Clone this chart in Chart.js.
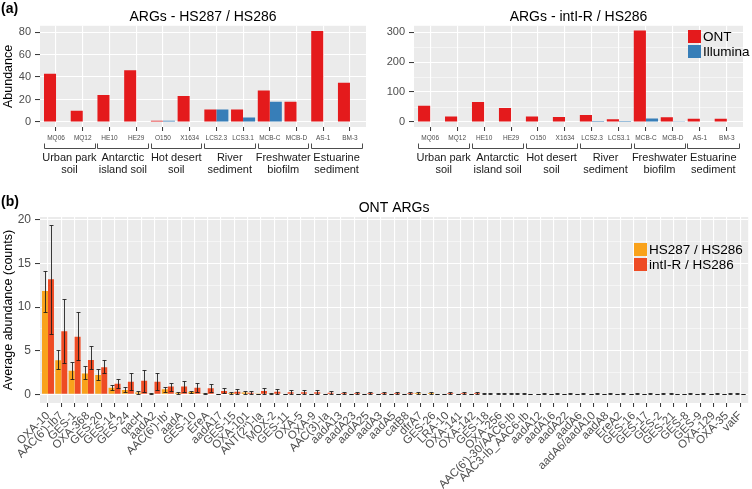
<!DOCTYPE html>
<html>
<head>
<meta charset="utf-8">
<script src="https://cdn.jsdelivr.net/npm/chart.js@4.4.0/dist/chart.umd.min.js"></script>
<style>
    body { margin: 0; width: 752px; height: 489px; background: #fff; position: relative; overflow: hidden; font-family: "Liberation Sans", Arial, sans-serif; }
    .box { position: absolute; }
    .tag { position: absolute; font-weight: bold; font-size: 14px; color: #000; }
</style>
</head>
<body>
<div class="box" style="left:0;top:0;width:376px;height:190px"><canvas id="chartHs287"></canvas></div>
<div class="box" style="left:376px;top:0;width:376px;height:190px"><canvas id="chartInti"></canvas></div>
<div class="box" style="left:0;top:195px;width:752px;height:294px"><canvas id="chartOnt"></canvas></div>
<div class="tag" style="left:1px;top:0px">(a)</div>
<div class="tag" style="left:1px;top:193px">(b)</div>
<script>
// Dados do painel (a)
const samples = ['MQ06', 'MQ12', 'HE10', 'HE29', 'O150', 'X1634', 'LCS2.3', 'LCS3.1', 'MCB-C', 'MCB-D', 'AS-1', 'BM-3'];
const sampleGroups = [['Urban park', 'soil'], ['Antarctic', 'island soil'], ['Hot desert', 'soil'], ['River', 'sediment'], ['Freshwater', 'biofilm'], ['Estuarine', 'sediment']];
const samplesPerGroup = 2;
const hs287Ont = [43, 10, 24, 46, 1, 23, 11, 11, 28, 18, 81, 35];
const hs287Illumina = [0, 0, 0, 0, 1, 0, 11, 4, 18, 0, 0, 0];
const intiOnt = [54, 18, 67, 47, 18, 17, 23, 9, 305, 16, 11, 11];
const intiIllumina = [0, 0, 0, 0, 0, 0, 3, 3, 12, 1, 0, 0];
const hs287Ticks = [0, 20, 40, 60, 80];
const intiTicks = [0, 100, 200, 300];

// Dados do painel (b)
const genes = ['OXA-10', "AAC(6')-Ib7", 'GES-1', 'OXA-368', 'GES-20', 'GES-14', 'GES-24', 'qacH', 'aadA2', "AAC(6')-Ib'",
    'aadA', 'GES-10', 'EreA', 'aadA17', 'GES-15', 'OXA-101', "ANT(2'')-Ia", 'MOX-2', 'GES-11', 'OXA-5',
    'OXA-9', 'AAC(3)-Ia', 'aadA13', 'aadA23', 'aadA25', 'aadA3', 'aadA5', 'catB8', 'dfrA7', 'GES-26',
    'LRA-10', 'OXA-141', 'OXA-142', 'GES-18', 'OXA-256', "AAC(6')-30/AAC6-Ib", 'AAC3-Ib_AAC6-Ib', 'aadA12', 'aadA16', 'aadA22',
    'aadA6', 'aadA6/aadA10', 'aadA8', 'EreA2', 'GES-16', 'GES-17', 'GES-2', 'GES-21', 'GES-8', 'GES-9',
    'OXA-129', 'OXA-35', 'vatF'];
const hs287Mean = [11.85, 3.9, 2.7, 2.4, 2.2, 0.76, 0.5, 0.2, 0.08, 0.57,
    0.19, 0.3, 0.08, 0.05, 0.15, 0.2, 0.04, 0.08, 0, 0,
    0, 0, 0, 0, 0, 0, 0, 0, 0.15, 0.15,
    0, 0, 0, 0.07, 0.07, 0.07, 0.07, 0, 0, 0,
    0, 0, 0, 0, 0, 0, 0, 0.07, 0, 0,
    0, 0, 0.07];
const hs287Low = [9.4, 2.9, 1.7, 1.7, 1.6, 0.5, 0.25, 0.05, 0.05, 0.25,
    0.05, 0.2, 0.05, 0.02, 0.02, 0.02, 0.02, 0.03, 0, 0,
    0, 0, 0, 0, 0, 0, 0, 0, 0, 0,
    0, 0, 0, 0, 0, 0, 0, 0, 0, 0,
    0, 0, 0, 0, 0, 0, 0, 0, 0, 0,
    0, 0, 0];
const hs287High = [14.2, 5.1, 3.7, 3.2, 2.9, 1.05, 0.85, 0.4, 0.1, 0.88,
    0.3, 0.42, 0.1, 0.08, 0.3, 0.42, 0.06, 0.12, 0, 0,
    0, 0, 0, 0, 0, 0, 0, 0, 0.3, 0.3,
    0, 0, 0, 0.13, 0.13, 0.13, 0.13, 0, 0, 0,
    0, 0, 0, 0, 0, 0, 0, 0.13, 0, 0,
    0, 0, 0.13];
const intiMean = [13.2, 7.25, 6.6, 3.95, 3.1, 1.22, 1.45, 1.55, 1.45, 0.88,
    0.88, 0.76, 0.7, 0.38, 0.3, 0.19, 0.38, 0.3, 0.23, 0.23,
    0.23, 0.19, 0.15, 0.15, 0.15, 0.15, 0.15, 0.15, 0, 0,
    0.15, 0.15, 0.15, 0.07, 0.07, 0.07, 0, 0.07, 0.07, 0.07,
    0.07, 0.07, 0.07, 0.07, 0.07, 0.07, 0.07, 0, 0.07, 0.07,
    0.07, 0.07, 0];
const intiLow = [6.9, 3.55, 3.9, 2.9, 2.4, 0.75, 0.5, 0.3, 0.45, 0.4,
    0.25, 0.25, 0.25, 0.1, 0.05, 0.02, 0.08, 0.03, 0.02, 0,
    0, 0.03, 0, 0, 0, 0, 0, 0, 0, 0,
    0, 0, 0, 0, 0, 0, 0, 0, 0, 0,
    0, 0, 0, 0, 0, 0, 0, 0, 0, 0,
    0, 0, 0];
const intiHigh = [19.4, 10.9, 9.4, 5.5, 3.9, 1.8, 2.5, 2.75, 2.45, 1.35,
    1.5, 1.32, 1.15, 0.68, 0.6, 0.38, 0.7, 0.58, 0.45, 0.48,
    0.46, 0.35, 0.3, 0.3, 0.3, 0.3, 0.3, 0.3, 0, 0,
    0.3, 0.3, 0.3, 0.13, 0.13, 0.13, 0, 0.13, 0.13, 0.13,
    0.13, 0.13, 0.13, 0.13, 0.13, 0.13, 0.13, 0, 0.13, 0.13,
    0.13, 0.13, 0];
const ontTicks = [0, 5, 10, 15, 20];

const FONT = '"Liberation Sans", Arial, sans-serif';

// Fundo cinza do painel (estilo ggplot)
const panelBackground = {
    id: 'panelBackground',
    beforeDraw(chart) {
        const { ctx, chartArea: a } = chart;
        ctx.save();
        ctx.fillStyle = '#EBEBEB';
        ctx.fillRect(a.left, a.top, a.right - a.left, a.bottom - a.top);
        ctx.restore();
    }
};

// Barras de erro
const errorBars = {
    id: 'errorBars',
    afterDatasetsDraw(chart) {
        const ctx = chart.ctx;
        const y = chart.scales.y;
        chart.data.datasets.forEach((ds, i) => {
            if (!ds.errLow) return;
            const meta = chart.getDatasetMeta(i);
            ctx.save();
            ctx.strokeStyle = 'rgba(25,25,25,0.85)';
            ctx.lineWidth = 1;
            meta.data.forEach((bar, j) => {
                const x = Math.round(bar.x) + 0.5;
                const top = Math.round(y.getPixelForValue(ds.errHigh[j])) + 0.5;
                const bot = Math.round(y.getPixelForValue(ds.errLow[j])) + 0.5;
                const half = Math.max(bar.width * 0.3, 2);
                ctx.beginPath();
                ctx.moveTo(x, top); ctx.lineTo(x, bot);
                ctx.moveTo(x - half, top); ctx.lineTo(x + half, top);
                ctx.moveTo(x - half, bot); ctx.lineTo(x + half, bot);
                ctx.stroke();
            });
            ctx.restore();
        });
    }
};

// Legenda dentro do painel
const panelLegend = {
    id: 'panelLegend',
    afterDraw(chart, args, opts) {
        if (!opts.display) return;
        const ctx = chart.ctx;
        ctx.save();
        ctx.font = opts.fontSize + 'px ' + FONT;
        ctx.textBaseline = 'middle';
        chart.data.datasets.forEach((ds, i) => {
            const y = opts.y + i * opts.rowHeight;
            ctx.fillStyle = ds.backgroundColor;
            ctx.fillRect(opts.x, y, opts.box, opts.box);
            ctx.fillStyle = '#000';
            ctx.fillText(ds.label, opts.x + opts.box + 2, y + opts.box / 2 + 0.5);
        });
        ctx.restore();
    }
};

// Colchetes e nomes dos grupos de amostras
const groupBrackets = {
    id: 'groupBrackets',
    afterDraw(chart) {
        const ctx = chart.ctx;
        const x = chart.scales.x;
        const base = chart.chartArea.bottom;
        const step = x.getPixelForValue(1) - x.getPixelForValue(0);
        ctx.save();
        ctx.strokeStyle = '#4D4D4D';
        ctx.lineWidth = 1;
        ctx.fillStyle = '#1A1A1A';
        ctx.font = '11px ' + FONT;
        ctx.textAlign = 'center';
        ctx.textBaseline = 'middle';
        sampleGroups.forEach((lines, g) => {
            const first = g * samplesPerGroup;
            const last = first + samplesPerGroup - 1;
            const x0 = Math.round(x.getPixelForValue(first) - step * 0.46) + 0.5;
            const x1 = Math.round(x.getPixelForValue(last) + step * 0.44) + 0.5;
            const yTop = Math.round(base + 16) + 0.5;
            const yBot = Math.round(base + 21) + 0.5;
            ctx.beginPath();
            ctx.moveTo(x0, yTop); ctx.lineTo(x0, yBot); ctx.lineTo(x1, yBot); ctx.lineTo(x1, yTop);
            ctx.stroke();
            const cx = (x.getPixelForValue(first) + x.getPixelForValue(last)) / 2;
            lines.forEach((txt, k) => ctx.fillText(txt, cx, base + 31 + k * 12));
        });
        ctx.restore();
    }
};

// Expansao discreta de 0.6 categoria nas pontas (como no ggplot)
function ggExpand(s) {
    s._startValue = s.min - 0.6;
    s._valueRange = (s.max - s.min) + 1.2;
}

function yAxis(min, max, majors, width, title, fontSize) {
    const minors = majors.slice(1).map((v, i) => (v + majors[i]) / 2);
    const all = majors.concat(minors).sort((a, b) => a - b);
    const isMajor = v => majors.includes(v);
    return {
        min: min,
        max: max,
        afterBuildTicks: s => { s.ticks = all.map(v => ({ value: v })); },
        afterFit: s => { s.width = width; },
        border: { display: false },
        grid: {
            color: '#FFFFFF',
            lineWidth: c => (c.tick && isMajor(c.tick.value)) ? 1.1 : 0.5,
            tickLength: 5,
            tickWidth: 1,
            tickColor: c => (c.tick && isMajor(c.tick.value)) ? '#333333' : 'rgba(0,0,0,0)'
        },
        ticks: {
            color: '#4D4D4D',
            font: { family: FONT, size: fontSize },
            padding: 4,
            callback: v => isMajor(v) ? v : ''
        },
        title: {
            display: !!title,
            text: title,
            color: '#000',
            font: { family: FONT, size: 12.5 },
            padding: { top: 1, bottom: 0 }
        }
    };
}

function makeArgChart(id, titleText, ont, illumina, yMin, yMax, majors, yWidth, yTitle, padRight, legend) {
    return new Chart(document.getElementById(id), {
        type: 'bar',
        data: {
            labels: samples,
            datasets: [
                { label: 'ONT', data: ont, backgroundColor: '#E41A1C', categoryPercentage: 0.9, barPercentage: 1.0 },
                { label: 'Illumina', data: illumina, backgroundColor: '#377EB8', categoryPercentage: 0.9, barPercentage: 1.0 }
            ]
        },
        options: {
            responsive: true,
            maintainAspectRatio: false,
            animation: false,
            layout: { padding: { left: 0, right: padRight, top: 0, bottom: 0 } },
            scales: {
                x: {
                    offset: true,
                    afterBuildTicks: ggExpand,
                    afterFit: s => { s.height = 63; },
                    border: { display: false },
                    grid: { offset: false, color: '#FFFFFF', lineWidth: 1.1, tickLength: 4, tickWidth: 1, tickColor: '#333333' },
                    ticks: { color: '#4D4D4D', font: { family: FONT, size: 6.5 }, padding: 3, maxRotation: 0, autoSkip: false }
                },
                y: yAxis(yMin, yMax, majors, yWidth, yTitle, 11)
            },
            plugins: {
                legend: { display: false },
                tooltip: { enabled: false },
                title: {
                    display: true,
                    text: titleText,
                    fullSize: false,
                    color: '#000',
                    font: { family: FONT, size: 14, weight: 'normal' },
                    padding: { top: 9, bottom: 0 }
                },
                panelLegend: legend
            }
        },
        plugins: [panelBackground, groupBrackets, panelLegend]
    });
}

document.addEventListener('DOMContentLoaded', function() {
    // Painel (a) - esquerda
    makeArgChart('chartHs287', 'ARGs - HS287 / HS286', hs287Ont, hs287Illumina, -4.5, 85.6, hs287Ticks, 40, 'Abundance', 10,
        { display: false });

    // Painel (a) - direita
    makeArgChart('chartInti', 'ARGs - intI-R / HS286', intiOnt, intiIllumina, -16.7, 321, intiTicks, 38, '', 9,
        { display: true, x: 312, y: 30, box: 13, rowHeight: 15, fontSize: 13.5 });

    // Painel (b)
    new Chart(document.getElementById('chartOnt'), {
        type: 'bar',
        data: {
            labels: genes,
            datasets: [
                { label: 'HS287 / HS286', data: hs287Mean, errLow: hs287Low, errHigh: hs287High, backgroundColor: '#F9A21B', categoryPercentage: 0.9, barPercentage: 1.0 },
                { label: 'intI-R / HS286', data: intiMean, errLow: intiLow, errHigh: intiHigh, backgroundColor: '#EE4B24', categoryPercentage: 0.9, barPercentage: 1.0 }
            ]
        },
        options: {
            responsive: true,
            maintainAspectRatio: false,
            animation: false,
            layout: { padding: { left: 0, right: 2, top: 0, bottom: 0 } },
            scales: {
                x: {
                    offset: true,
                    afterBuildTicks: ggExpand,
                    afterFit: s => { s.height = 86; },
                    border: { display: false },
                    grid: { offset: false, color: '#FFFFFF', lineWidth: 1.1, tickLength: 4, tickWidth: 1, tickColor: '#333333' },
                    ticks: { color: '#4D4D4D', font: { family: FONT, size: 11.5 }, padding: 2, minRotation: 45, maxRotation: 45, autoSkip: false }
                },
                y: yAxis(-1.0, 20.35, ontTicks, 40, 'Average abundance (counts)', 12)
            },
            plugins: {
                legend: { display: false },
                tooltip: { enabled: false },
                title: {
                    display: true,
                    text: 'ONT ARGs',
                    fullSize: false,
                    color: '#000',
                    font: { family: FONT, size: 14, weight: 'normal' },
                    padding: { top: 4.6, bottom: 0.6 }
                },
                panelLegend: { display: true, x: 634, y: 48, box: 13, rowHeight: 15, fontSize: 13.5 }
            }
        },
        plugins: [panelBackground, errorBars, panelLegend]
    });
});
</script>
</body>
</html>
